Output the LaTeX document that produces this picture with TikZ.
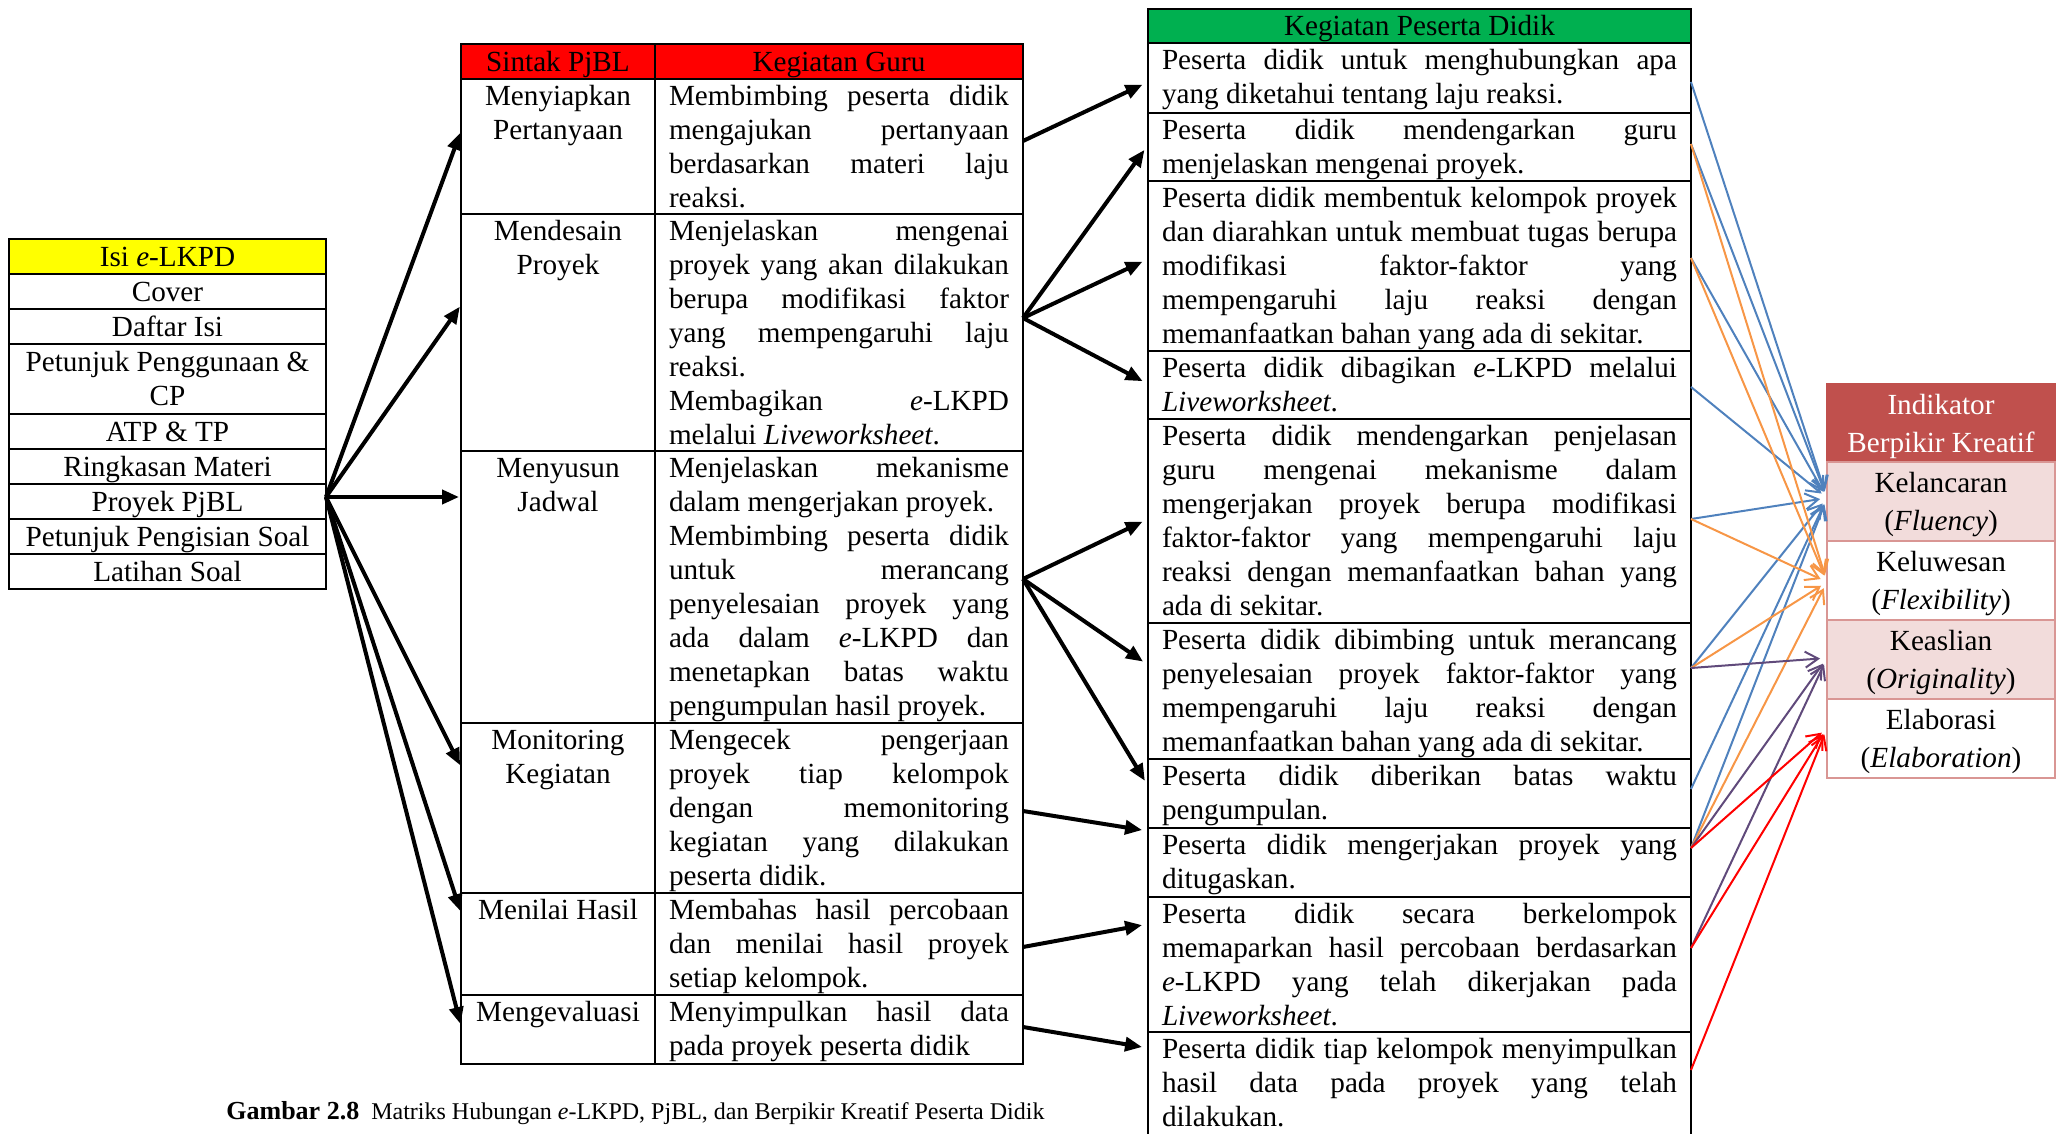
\documentclass[tikz,border=0pt]{standalone}
\usepackage{fontspec}
\setmainfont{Liberation Serif}
\usetikzlibrary{arrows.meta}

\definecolor{hdrYellow}{HTML}{FFFF00}
\definecolor{hdrRed}{HTML}{FF0000}
\definecolor{hdrGreen}{HTML}{00B050}
\definecolor{indHead}{HTML}{C0504D}
\definecolor{indPink}{HTML}{F2DCDB}
\definecolor{indLine}{HTML}{D99694}
\definecolor{lnBlue}{HTML}{4F81BD}
\definecolor{lnOrange}{HTML}{F79646}
\definecolor{lnPurple}{HTML}{604A7B}
\definecolor{lnRed}{HTML}{FF0000}

% table text: one line every 17pt
\newcommand\tabfont{\fontsize{14.6pt}{17pt}\selectfont}
\newcommand\strt{\rule[-3.7pt]{0pt}{17pt}}
\newcommand\istrt{\rule[-4.5pt]{0pt}{19pt}}
% justified lines of the two text columns, and a closing (ragged) line
\newcommand\jg[1]{\makebox[170pt][s]{\strt#1}}
\newcommand\jp[1]{\makebox[257.5pt][s]{\strt#1}}
\newcommand\lastl[1]{\strt#1}
% top-aligned cell body: height, width, lines
\newcommand\topbox[3]{\parbox[c][#1][t]{#2}{#3}}

\tikzset{
  cell/.style={draw, line width=1.2pt, inner sep=0pt, outer sep=0pt, anchor=north west},
  ccell/.style={cell, align=center},
  lkrow/.style={ccell, minimum width=158.5pt, minimum height=17.5pt},
  icell/.style={draw=indLine, line width=1.2pt, inner sep=0pt, outer sep=0pt,
    anchor=north west, align=center, minimum width=114pt, minimum height=39.5pt,
    font=\fontsize{14.6pt}{19pt}\selectfont},
  blk/.style={-{Triangle[length=8.5pt,width=7pt]}, line width=2pt, black},
  ind/.style={-{Straight Barb[length=6.5pt,width=8pt]}, line width=1pt, shorten >=3.5pt},
}

\begin{document}
\begin{tikzpicture}[x=0.5pt, y=-0.5pt, every node/.style={font=\tabfont}]
\useasboundingbox (0,0) rectangle (2062,1134);

% ---------- Isi e-LKPD ----------
\node[lkrow, fill=hdrYellow] (lk0) at (9,239) {\strt Isi \textit{e}-LKPD};
\node[lkrow] (lk1) at (9,274) {\strt Cover};
\node[lkrow] (lk2) at (9,309) {\strt Daftar Isi};
\node[lkrow, minimum height=35pt] (lk3) at (9,344) {\strt Petunjuk Penggunaan \&\\\strt CP};
\node[lkrow] (lk4) at (9,414) {\strt ATP \& TP};
\node[lkrow] (lk5) at (9,449) {\strt Ringkasan Materi};
\node[lkrow] (lk6) at (9,484) {\strt Proyek PjBL};
\node[lkrow] (lk7) at (9,519) {\strt Petunjuk Pengisian Soal};
\node[lkrow] (lk8) at (9,554) {\strt Latihan Soal};

% ---------- Sintak PjBL / Kegiatan Guru ----------
\node[ccell, fill=hdrRed, minimum width=97pt, minimum height=17.5pt] (s0) at (461,44) {\strt Sintak PjBL};
\node[ccell, fill=hdrRed, minimum width=184pt, minimum height=17.5pt] (g0) at (655,44) {\strt Kegiatan Guru};

\node[cell] (s1) at (461,79)  {\topbox{67.5pt}{97pt}{\centering\strt Menyiapkan\\\strt Pertanyaan}};
\node[cell] (s2) at (461,214) {\topbox{118.5pt}{97pt}{\centering\strt Mendesain\\\strt Proyek}};
\node[cell] (s3) at (461,451) {\topbox{136pt}{97pt}{\centering\strt Menyusun\\\strt Jadwal}};
\node[cell] (s4) at (461,723) {\topbox{85pt}{97pt}{\centering\strt Monitoring\\\strt Kegiatan}};
\node[cell] (s5) at (461,893) {\topbox{51pt}{97pt}{\centering\strt Menilai Hasil}};
\node[cell] (s6) at (461,995) {\topbox{34.5pt}{97pt}{\centering\strt Mengevaluasi}};

\node[cell, minimum width=184pt] (g1) at (655,79) {\topbox{67.5pt}{170pt}{%
\jg{Membimbing peserta didik}\\\jg{mengajukan pertanyaan}\\\jg{berdasarkan materi laju}\\\lastl{reaksi.}}};
\node[cell, minimum width=184pt] (g2) at (655,214) {\topbox{118.5pt}{170pt}{%
\jg{Menjelaskan mengenai}\\\jg{proyek yang akan dilakukan}\\\jg{berupa modifikasi faktor}\\\jg{yang mempengaruhi laju}\\\lastl{reaksi.}\\\jg{Membagikan \textit{e}-LKPD}\\\lastl{melalui \textit{Liveworksheet}.}}};
\node[cell, minimum width=184pt] (g3) at (655,451) {\topbox{136pt}{170pt}{%
\jg{Menjelaskan mekanisme}\\\lastl{dalam mengerjakan proyek.}\\\jg{Membimbing peserta didik}\\\jg{untuk merancang}\\\jg{penyelesaian proyek yang}\\\jg{ada dalam \textit{e}-LKPD dan}\\\jg{menetapkan batas waktu}\\\lastl{pengumpulan hasil proyek.}}};
\node[cell, minimum width=184pt] (g4) at (655,723) {\topbox{85pt}{170pt}{%
\jg{Mengecek pengerjaan}\\\jg{proyek tiap kelompok}\\\jg{dengan memonitoring}\\\jg{kegiatan yang dilakukan}\\\lastl{peserta didik.}}};
\node[cell, minimum width=184pt] (g5) at (655,893) {\topbox{51pt}{170pt}{%
\jg{Membahas hasil percobaan}\\\jg{dan menilai hasil proyek}\\\lastl{setiap kelompok.}}};
\node[cell, minimum width=184pt] (g6) at (655,995) {\topbox{34.5pt}{170pt}{%
\jg{Menyimpulkan hasil data}\\\lastl{pada proyek peserta didik}}};

% ---------- Kegiatan Peserta Didik ----------
\node[ccell, fill=hdrGreen, minimum width=271.5pt, minimum height=17pt] (p0) at (1148,9) {\strt Kegiatan Peserta Didik};
\node[cell, minimum width=271.5pt] (p1) at (1148,43) {\topbox{35pt}{257.5pt}{%
\jp{Peserta didik untuk menghubungkan apa}\\\lastl{yang diketahui tentang laju reaksi.}}};
\node[cell, minimum width=271.5pt] (p2) at (1148,113) {\topbox{34pt}{257.5pt}{%
\jp{Peserta didik mendengarkan guru}\\\lastl{menjelaskan mengenai proyek.}}};
\node[cell, minimum width=271.5pt] (p3) at (1148,181) {\topbox{85pt}{257.5pt}{%
\jp{Peserta didik membentuk kelompok proyek}\\\jp{dan diarahkan untuk membuat tugas berupa}\\\jp{modifikasi faktor-faktor yang}\\\jp{mempengaruhi laju reaksi dengan}\\\lastl{memanfaatkan bahan yang ada di sekitar.}}};
\node[cell, minimum width=271.5pt] (p4) at (1148,351) {\topbox{34pt}{257.5pt}{%
\jp{Peserta didik dibagikan \textit{e}-LKPD melalui}\\\lastl{\textit{Liveworksheet}.}}};
\node[cell, minimum width=271.5pt] (p5) at (1148,419) {\topbox{102pt}{257.5pt}{%
\jp{Peserta didik mendengarkan penjelasan}\\\jp{guru mengenai mekanisme dalam}\\\jp{mengerjakan proyek berupa modifikasi}\\\jp{faktor-faktor yang mempengaruhi laju}\\\jp{reaksi dengan memanfaatkan bahan yang}\\\lastl{ada di sekitar.}}};
\node[cell, minimum width=271.5pt] (p6) at (1148,623) {\topbox{68pt}{257.5pt}{%
\jp{Peserta didik dibimbing untuk merancang}\\\jp{penyelesaian proyek faktor-faktor yang}\\\jp{mempengaruhi laju reaksi dengan}\\\lastl{memanfaatkan bahan yang ada di sekitar.}}};
\node[cell, minimum width=271.5pt] (p7) at (1148,759) {\topbox{34.5pt}{257.5pt}{%
\jp{Peserta didik diberikan batas waktu}\\\lastl{pengumpulan.}}};
\node[cell, minimum width=271.5pt] (p8) at (1148,828) {\topbox{34.5pt}{257.5pt}{%
\jp{Peserta didik mengerjakan proyek yang}\\\lastl{ditugaskan.}}};
\node[cell, minimum width=271.5pt] (p9) at (1148,897) {\topbox{67.5pt}{257.5pt}{%
\jp{Peserta didik secara berkelompok}\\\jp{memaparkan hasil percobaan berdasarkan}\\\jp{\textit{e}-LKPD yang telah dikerjakan pada}\\\lastl{\textit{Liveworksheet}.}}};
\node[cell, minimum width=271.5pt] (p10) at (1148,1032) {\topbox{52.5pt}{257.5pt}{%
\jp{Peserta didik tiap kelompok menyimpulkan}\\\jp{hasil data pada proyek yang telah}\\\lastl{dilakukan.}}};

% ---------- Indikator Berpikir Kreatif ----------
\node[icell, fill=indHead, draw=indHead, text=white, minimum height=39pt] (i0) at (1827,384) {\istrt Indikator\\\istrt Berpikir Kreatif};
\node[icell, fill=indPink] (i1) at (1827,462) {\istrt Kelancaran\\\istrt (\textit{Fluency})};
\node[icell, fill=white]   (i2) at (1827,541) {\istrt Keluwesan\\\istrt (\textit{Flexibility})};
\node[icell, fill=indPink] (i3) at (1827,620) {\istrt Keaslian\\\istrt (\textit{Originality})};
\node[icell, fill=white]   (i4) at (1827,699) {\istrt Elaborasi\\\istrt (\textit{Elaboration})};

% ---------- e-LKPD -> sintak ----------
\begin{scope}[shorten >=1pt]
\draw[blk] (lk6.east |- 0,497) -- (s1.west |- 0,131);
\draw[blk] (lk6.east |- 0,497) -- (s2.west |- 0,305);
\draw[blk] (lk6.east |- 0,497) -- (s3.west |- 0,497);
\draw[blk] (lk6.east |- 0,497) -- (s4.west |- 0,767);
\draw[blk] (lk6.east |- 0,497) -- (s5.west |- 0,913);
\draw[blk] (lk6.east |- 0,497) -- (s6.west |- 0,1026);
\end{scope}

% ---------- kegiatan guru -> kegiatan peserta didik ----------
\begin{scope}[shorten >=3pt]
\draw[blk] (g1.east |- 0,141) -- (p1.west |- 0,82);
\draw[blk] (g2.east |- 0,318) -- (p2.west |- 0,145);
\draw[blk] (g2.east |- 0,318) -- (p3.west |- 0,259);
\draw[blk] (g2.east |- 0,318) -- (p4.west |- 0,384);
\draw[blk] (g3.east |- 0,579) -- (p5.west |- 0,519);
\draw[blk] (g3.east |- 0,579) -- (p6.west |- 0,665);
\draw[blk] (g3.east |- 0,579) -- (p7.west |- 0,786);
\draw[blk] (g4.east |- 0,811) -- (p8.west |- 0,831);
\draw[blk] (g5.east |- 0,947) -- (p9.west |- 0,924);
\draw[blk] (g6.east |- 0,1027) -- (p10.west |- 0,1048);
\end{scope}

% ---------- kegiatan peserta didik -> indikator ----------
\begin{scope}[ind, lnBlue]
\draw (p1.east |- 0,82)  -- (i1.west |- 0,498);
\draw (p2.east |- 0,144) -- (i1.west |- 0,498);
\draw (p3.east |- 0,258) -- (i1.west |- 0,498);
\draw (p4.east |- 0,387) -- (i1.west |- 0,498);
\draw (p5.east |- 0,519) -- (i1.west |- 0,498);
\draw (p6.east |- 0,668) -- (i1.west |- 0,498);
\draw (p7.east |- 0,789) -- (i1.west |- 0,498);
\draw (p8.east |- 0,848) -- (i1.west |- 0,498);
\end{scope}
\begin{scope}[ind, lnOrange]
\draw (p2.east |- 0,144) -- (i2.west |- 0,582);
\draw (p3.east |- 0,258) -- (i2.west |- 0,582);
\draw (p5.east |- 0,519) -- (i2.west |- 0,582);
\draw (p6.east |- 0,668) -- (i2.west |- 0,582);
\draw (p8.east |- 0,848) -- (i2.west |- 0,582);
\end{scope}
\begin{scope}[ind, lnPurple]
\draw (p6.east |- 0,668) -- (i3.west |- 0,658);
\draw (p8.east |- 0,848) -- (i3.west |- 0,658);
\draw (p9.east |- 0,948) -- (i3.west |- 0,658);
\end{scope}
\begin{scope}[ind, lnRed]
\draw (p8.east |- 0,848)  -- (i4.west |- 0,728);
\draw (p9.east |- 0,948)  -- (i4.west |- 0,728);
\draw (p10.east |- 0,1070) -- (i4.west |- 0,728);
\end{scope}

% ---------- caption ----------
\node[anchor=base west, inner sep=0pt, font=\fontsize{12pt}{14pt}\selectfont] (cap) at (226,1119)
  {{\fontsize{13pt}{14pt}\selectfont\bfseries Gambar 2.8}\enspace Matriks Hubungan \textit{e}-LKPD, PjBL, dan Berpikir Kreatif Peserta Didik};

\end{tikzpicture}
\end{document}
